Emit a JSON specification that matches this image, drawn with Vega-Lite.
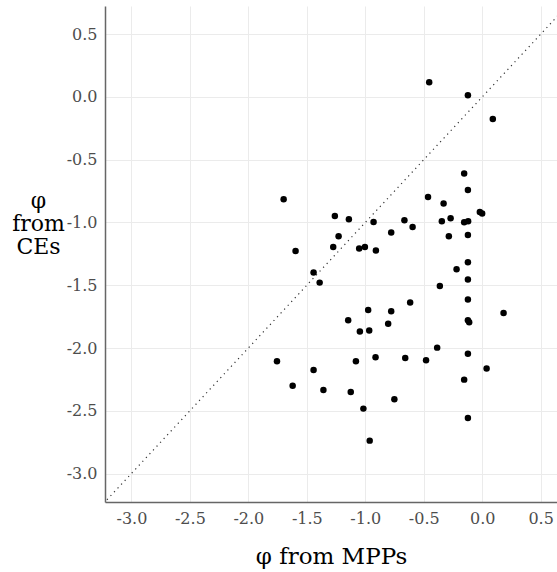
{
  "$schema": "https://vega.github.io/schema/vega-lite/v6.json",
  "width": 452,
  "height": 496,
  "autosize": {"type": "none"},
  "padding": {"left": 105, "top": 6, "right": 0, "bottom": 70},
  "background": "white",
  "config": {
    "view": {"stroke": null},
    "font": "DejaVu Serif"
  },
  "datasets": {
    "points": [
      {"mpp": -0.453, "ce": 0.117},
      {"mpp": -0.122, "ce": 0.014},
      {"mpp": 0.091, "ce": -0.175},
      {"mpp": -1.698, "ce": -0.815},
      {"mpp": -0.463, "ce": -0.797},
      {"mpp": -0.154, "ce": -0.610},
      {"mpp": -0.122, "ce": -0.741},
      {"mpp": -0.330, "ce": -0.849},
      {"mpp": -1.260, "ce": -0.948},
      {"mpp": -1.140, "ce": -0.975},
      {"mpp": -0.929, "ce": -0.996},
      {"mpp": -0.665, "ce": -0.982},
      {"mpp": -0.595, "ce": -1.036},
      {"mpp": -0.778, "ce": -1.080},
      {"mpp": -0.345, "ce": -0.990},
      {"mpp": -0.270, "ce": -0.967},
      {"mpp": -0.154, "ce": -0.998},
      {"mpp": -0.120, "ce": -0.990},
      {"mpp": -0.020, "ce": -0.916},
      {"mpp": 0.000, "ce": -0.929},
      {"mpp": -1.228, "ce": -1.110},
      {"mpp": -1.596, "ce": -1.227},
      {"mpp": -1.274, "ce": -1.195},
      {"mpp": -1.052, "ce": -1.208},
      {"mpp": -1.003, "ce": -1.195},
      {"mpp": -0.909, "ce": -1.224},
      {"mpp": -0.285, "ce": -1.110},
      {"mpp": -0.122, "ce": -1.100},
      {"mpp": -0.122, "ce": -1.317},
      {"mpp": -0.219, "ce": -1.373},
      {"mpp": -1.442, "ce": -1.399},
      {"mpp": -1.390, "ce": -1.479},
      {"mpp": -0.122, "ce": -1.455},
      {"mpp": -0.362, "ce": -1.506},
      {"mpp": -0.122, "ce": -1.614},
      {"mpp": -0.616, "ce": -1.638},
      {"mpp": -0.975, "ce": -1.697},
      {"mpp": -0.778, "ce": -1.708},
      {"mpp": 0.183, "ce": -1.721},
      {"mpp": -1.146, "ce": -1.779},
      {"mpp": -0.122, "ce": -1.779},
      {"mpp": -0.111, "ce": -1.795},
      {"mpp": -0.804, "ce": -1.806},
      {"mpp": -1.046, "ce": -1.869},
      {"mpp": -0.966, "ce": -1.861},
      {"mpp": -0.385, "ce": -1.997},
      {"mpp": -1.755, "ce": -2.106},
      {"mpp": -0.122, "ce": -2.045},
      {"mpp": -1.080, "ce": -2.106},
      {"mpp": -0.912, "ce": -2.074},
      {"mpp": -0.658, "ce": -2.080},
      {"mpp": -0.480, "ce": -2.098},
      {"mpp": 0.038, "ce": -2.164},
      {"mpp": -1.442, "ce": -2.175},
      {"mpp": -0.154, "ce": -2.252},
      {"mpp": -1.621, "ce": -2.300},
      {"mpp": -1.358, "ce": -2.335},
      {"mpp": -1.124, "ce": -2.351},
      {"mpp": -0.751, "ce": -2.409},
      {"mpp": -1.016, "ce": -2.483},
      {"mpp": -0.122, "ce": -2.558},
      {"mpp": -0.962, "ce": -2.738}
    ],
    "identity": [
      {"mpp": -3.3, "ce": -3.3},
      {"mpp": 0.8, "ce": 0.8}
    ]
  },
  "encoding": {
    "x": {
      "field": "mpp",
      "type": "quantitative",
      "scale": {"domain": [-3.226, 0.64], "nice": false, "zero": false},
      "axis": {
        "title": "φ from MPPs",
        "values": [-3, -2.5, -2, -1.5, -1, -0.5, 0, 0.5],
        "labelExpr": "replace(format(datum.value, '.1f'), '\u2212', '-')",
        "ticks": false,
        "labelPadding": 8,
        "labelFont": "DejaVu Serif",
        "labelFontSize": 16,
        "labelColor": "#4d4d4d",
        "labelFlush": false,
        "labelOverlap": false,
        "domainColor": "#666666",
        "domainWidth": 1.5,
        "gridColor": "#ebebeb",
        "gridWidth": 1,
        "titleFont": "DejaVu Serif",
        "titleFontSize": 23,
        "titleFontWeight": "normal",
        "titleColor": "#000000",
        "titleBaseline": "alphabetic",
        "titleY": 61
      }
    },
    "y": {
      "field": "ce",
      "type": "quantitative",
      "scale": {"domain": [-3.227, 0.725], "nice": false, "zero": false},
      "axis": {
        "title": ["φ", "from", "CEs"],
        "values": [-3, -2.5, -2, -1.5, -1, -0.5, 0, 0.5],
        "labelExpr": "replace(format(datum.value, '.1f'), '\u2212', '-')",
        "ticks": false,
        "labelPadding": 8,
        "labelFont": "DejaVu Serif",
        "labelFontSize": 16,
        "labelColor": "#4d4d4d",
        "labelFlush": false,
        "labelOverlap": false,
        "domainColor": "#666666",
        "domainWidth": 1.5,
        "gridColor": "#ebebeb",
        "gridWidth": 1,
        "titleFont": "DejaVu Serif",
        "titleFontSize": 22,
        "titleFontWeight": "normal",
        "titleColor": "#000000",
        "titleAngle": 0,
        "titleAlign": "center",
        "titleBaseline": "middle",
        "titleLineHeight": 23,
        "titleX": -67,
        "titleY": 194
      }
    }
  },
  "layer": [
    {
      "data": {"name": "identity"},
      "mark": {"type": "line", "clip": true, "color": "#333333", "strokeWidth": 1.2, "strokeDash": [1.2, 4]},
      "encoding": {}
    },
    {
      "data": {"name": "points"},
      "mark": {"type": "circle", "color": "#000000", "opacity": 1, "size": 42},
      "encoding": {}
    }
  ]
}
